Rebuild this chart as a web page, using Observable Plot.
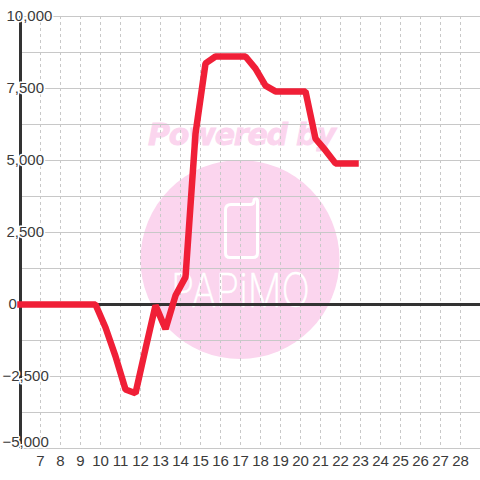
<!DOCTYPE html>
<html>
<head>
<meta charset="utf-8">
<script src="https://cdn.jsdelivr.net/npm/d3@7"></script>
<script src="https://cdn.jsdelivr.net/npm/@observablehq/plot@0.6"></script>
<style>html,body{margin:0;padding:0;background:#fff}svg{display:block}</style>
</head>
<body>
<div id="chart"></div>
<script>
const days = [6,6.75,7.25,7.75,8.25,8.75,9.25,9.75,10.25,10.75,11.25,11.75,12.25,12.75,13.25,13.75,14.25,14.75,15.25,15.75,16.25,16.75,17.25,17.75,18.25,18.75,19.25,19.75,20.25,20.75,21.25,21.75,22.25,22.75];
const values = [0,0,0,0,0,0,0,0,-800,-1800,-2950,-3080,-1540,-30,-850,310,950,5930,8370,8610,8610,8610,8610,8190,7600,7400,7400,7400,7400,5760,5350,4900,4900,4900];
const xTicks = [7,8,9,10,11,12,13,14,15,16,17,18,19,20,21,22,23,24,25,26,27,28];
const yGrid = [-5000,-3750,-2500,-1250,0,1250,2500,3750,5000,6250,7500,8750,10000];
const posLabels = [2500,5000,7500,10000];
const negLabels = [-2500];
const lastLabels = [-5000];
const zeroLabels = [0];
const series = days.map((d,i)=>({d, v:values[i]}));
const fmt = d3.format(",");
const sans = "Liberation Sans";
const ink = "#3a3a3a";
const pink = "#fbd5ee";
const yLabel = (vals, dx, dy=0) => Plot.text(vals, {
  x: () => 6, y: d => d, text: d => fmt(d), textAnchor: "start", dx, dy,
  fontSize: 15, fontFamily: sans, fill: ink, stroke: "#fff", strokeWidth: 3, paintOrder: "stroke"
});
const watermark = () => {
  const g = d3.create("svg:g").attr("text-anchor","start");
  g.append("text").text("Powered by").attr("x",148).attr("y",145)
    .attr("font-family","DejaVu Sans").attr("font-weight","bold").attr("font-style","italic").attr("font-size",30)
    .attr("letter-spacing","-1.2px").attr("fill",pink).attr("stroke",pink).attr("stroke-width",0.8);
  g.append("path").attr("fill","none").attr("stroke","#fff").attr("stroke-width",3).attr("stroke-linejoin","round")
    .attr("d","M231 204.5H250Q254 204.5 254 200.5Q254 199 256 199Q257.5 199 257.5 201V253Q257.5 257.5 253 257.5H230Q225.5 257.5 225.5 253V210Q225.5 204.5 231 204.5Z");
  g.append("text").text("PAPiMO").attr("transform","translate(171,307) scale(0.8,1)")
    .attr("font-family","Inter").attr("font-weight",200).attr("font-size",47)
    .attr("fill","#fff").attr("stroke","#fff").attr("stroke-width",0.5);
  return g.node();
};
const plot = Plot.plot({
  width: 480, height: 480,
  marginLeft: 20, marginRight: 0, marginTop: 16, marginBottom: 32,
  style: {background: "#fff", fontFamily: sans},
  x: {domain: [6,29], axis: null},
  y: {domain: [-5000,10000], axis: null},
  marks: [
    Plot.dot([0], {frameAnchor: "middle", dx: -10.5, dy: 27, r: 99.5, fill: pink}),
    watermark,
    Plot.ruleY(yGrid, {stroke: "#c8c8c8", strokeWidth: 1}),
    Plot.ruleX(xTicks, {y1: 10000, y2: -5000, stroke: "#c8c8c8", strokeWidth: 1, strokeDasharray: "3,3"}),
    Plot.ruleY([0], {stroke: "#333", strokeWidth: 3}),
    Plot.ruleX([6], {y1: 10000, y2: -5000, stroke: "#333", strokeWidth: 3}),
    yLabel(posLabels, -14),
    yLabel(zeroLabels, -12),
    yLabel(negLabels, -18),
    yLabel(lastLabels, -18, -6),
    Plot.line(series, {x: "d", y: "v", stroke: "#f01f37", strokeWidth: 6.5, strokeLinecap: "square", strokeLinejoin: "miter", curve: "linear"}),
    Plot.text(xTicks, {x: d => d, y: () => -5000, dy: 12.5, text: d => String(d), fontSize: 15, fontFamily: sans, fill: ink})
  ]
});
document.getElementById("chart").appendChild(plot);
</script>
</body>
</html>
